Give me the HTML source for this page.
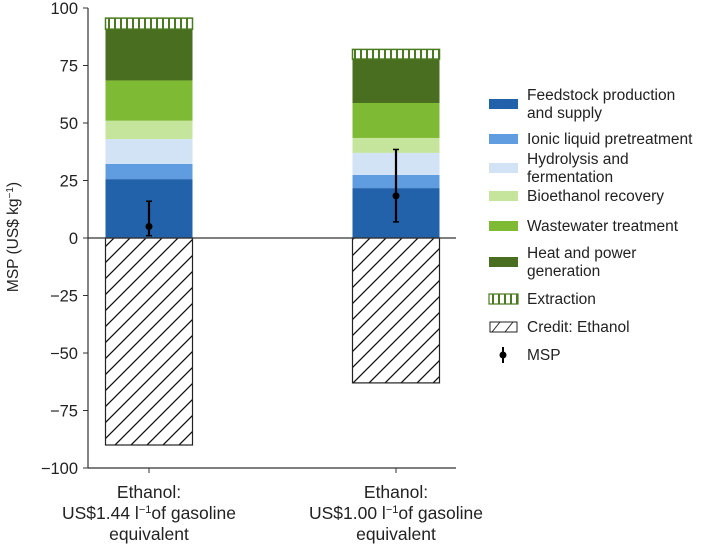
<!DOCTYPE html>
<html><head><meta charset="utf-8"><style>
body{margin:0;background:#fff;}
svg text{font-family:"Liberation Sans",sans-serif;fill:#222;}
</style></head><body>
<svg id="chart" width="704" height="544" viewBox="0 0 704 544">
<defs>
<pattern id="hatch" patternUnits="userSpaceOnUse" width="16" height="16">
<path d="M-4,20 L20,-4 M-4,4 L4,-4 M12,20 L20,12" stroke="#111" stroke-width="1.3"/>
</pattern>
<pattern id="vstripe" patternUnits="userSpaceOnUse" width="6" height="10">
<rect width="6" height="10" fill="#fff"/><rect width="2" height="10" fill="#4a7a1e"/>
</pattern>
</defs>
<g id="plot"></g>
<text x="18" y="237" font-size="15.5" text-anchor="middle" transform="rotate(-90 18 237)">MSP (US$ kg<tspan baseline-shift="super" font-size="10">−1</tspan>)</text>
<g font-size="17.5" text-anchor="middle">
<text x="149" y="498">Ethanol:</text>
<text x="149" y="519">US$1.44 l<tspan baseline-shift="super" font-size="11">−1</tspan>of gasoline</text>
<text x="149" y="540">equivalent</text></g>
<g font-size="17.5" text-anchor="middle">
<text x="396" y="498">Ethanol:</text>
<text x="396" y="519">US$1.00 l<tspan baseline-shift="super" font-size="11">−1</tspan>of gasoline</text>
<text x="396" y="540">equivalent</text></g>
<g id="legend"></g>
</svg>
<script>
const categories=["US$1.44","US$1.00"];
const seriesNames=["Feedstock production and supply","Ionic liquid pretreatment","Hydrolysis and fermentation","Bioethanol recovery","Wastewater treatment","Heat and power generation","Extraction"];
const feedstock=[25.6,21.7];
const ionic=[6.6,5.7];
const hydrolysis=[10.8,9.6];
const bioethanol=[8,6.5];
const wastewater=[17.5,15.2];
const heatpower=[22.3,19.1];
const extraction=[4.8,4.2];
const credit=[-90,-63];
const msp=[5,18.3];
const mspLow=[1,7];
const mspHigh=[16,38.5];
const yTicks=[100,75,50,25,0,-25,-50,-75,-100];
const colors=["#2262ab","#5f9ce0","#d2e3f5","#c5e49c","#7fba34","#4a6e1f","url(#vstripe)"];
const ns="http://www.w3.org/2000/svg";
const g=document.getElementById('plot');
const y=v=>238-v*2.3;
const xc=i=>149+i*247;
const bw=87;
function el(t,a,p){const e=document.createElementNS(ns,t);for(const k in a)e.setAttribute(k,a[k]);(p||g).appendChild(e);return e;}
const ya=el('line',{x1:88,y1:y(100),x2:88,y2:y(-100),stroke:'#333','stroke-width':1.2});


yTicks.forEach(t=>{
 el('line',{x1:83,x2:88,y1:y(t),y2:y(t),stroke:'#333'});
 const tx=el('text',{x:78,y:y(t)+6,'font-size':16.5,'text-anchor':'end'});
 tx.textContent=t<0?'−'+(-t):t;
 
 
});
const xa=el('line',{x1:88,y1:y(-100),x2:456,y2:y(-100),stroke:'#333','stroke-width':1.2});


categories.forEach((c,i)=>el('line',{x1:xc(i),x2:xc(i),y1:y(-100),y2:y(-100)+5,stroke:'#333'}));
const series=[feedstock,ionic,hydrolysis,bioethanol,wastewater,heatpower,extraction];
categories.forEach((c,i)=>{
 let base=0;
 series.forEach((s,k)=>{
  const r=el('rect',{x:xc(i)-bw/2,y:y(base+s[i]),width:bw,height:s[i]*2.3,fill:colors[k]});
  if(k==6){r.setAttribute('stroke','#4a7a1e');r.setAttribute('stroke-width','1.5');}
  
  
  base+=s[i];
 });
 const cr=el('rect',{x:xc(i)-bw/2,y:y(0),width:bw,height:-credit[i]*2.3,fill:'url(#hatch)',stroke:'#222','stroke-width':1.2});
 
 
});
const zl=el('line',{x1:88,x2:456,y1:y(0),y2:y(0),stroke:'#333','stroke-width':1.2});


categories.forEach((c,i)=>{
 el('line',{x1:xc(i),x2:xc(i),y1:y(mspLow[i]),y2:y(mspHigh[i]),stroke:'#000','stroke-width':2.2});
 el('line',{x1:xc(i)-3,x2:xc(i)+3,y1:y(mspLow[i]),y2:y(mspLow[i]),stroke:'#000','stroke-width':1.5});
 el('line',{x1:xc(i)-3,x2:xc(i)+3,y1:y(mspHigh[i]),y2:y(mspHigh[i]),stroke:'#000','stroke-width':1.5});
 const p=el('circle',{cx:xc(i),cy:y(msp[i]),r:3.5,fill:'#000'});
 
 
});
const lg=document.getElementById('legend');
const legendItems=[["Feedstock production","and supply"],["Ionic liquid pretreatment"],["Hydrolysis and","fermentation"],["Bioethanol recovery"],["Wastewater treatment"],["Heat and power","generation"],["Extraction"],["Credit: Ethanol"],["MSP"]];
const legendY=[104,139,168,196,226,262,299,327,355];
legendItems.forEach((lines,k)=>{
 const cy=legendY[k];
 const grp=el('g',{},lg);
 
 
 if(k<7){const r=el('rect',{x:489,y:cy-5,width:29,height:10,fill:colors[k]},grp);if(k==6){r.setAttribute('stroke','#4a7a1e');r.setAttribute('stroke-width','1.2');}}
 else if(k==7){el('rect',{x:490,y:cy-5,width:27,height:10,fill:'#fff',stroke:'#222'},grp);el('path',{d:`M492,${cy+5}L500,${cy-5}M505,${cy+5}L513,${cy-5}`,stroke:'#222'},grp);}
 else {el('line',{x1:503,x2:503,y1:cy-8,y2:cy+8,stroke:'#000','stroke-width':2},grp);el('circle',{cx:503,cy:cy,r:3.5,fill:'#000'},grp);}
 lines.forEach((t,j)=>{const tx=el('text',{x:527,y:cy+5+(lines.length==2?(j*18-9):0),'font-size':15.5},grp);tx.textContent=t;});
});
</script>
</body></html>
